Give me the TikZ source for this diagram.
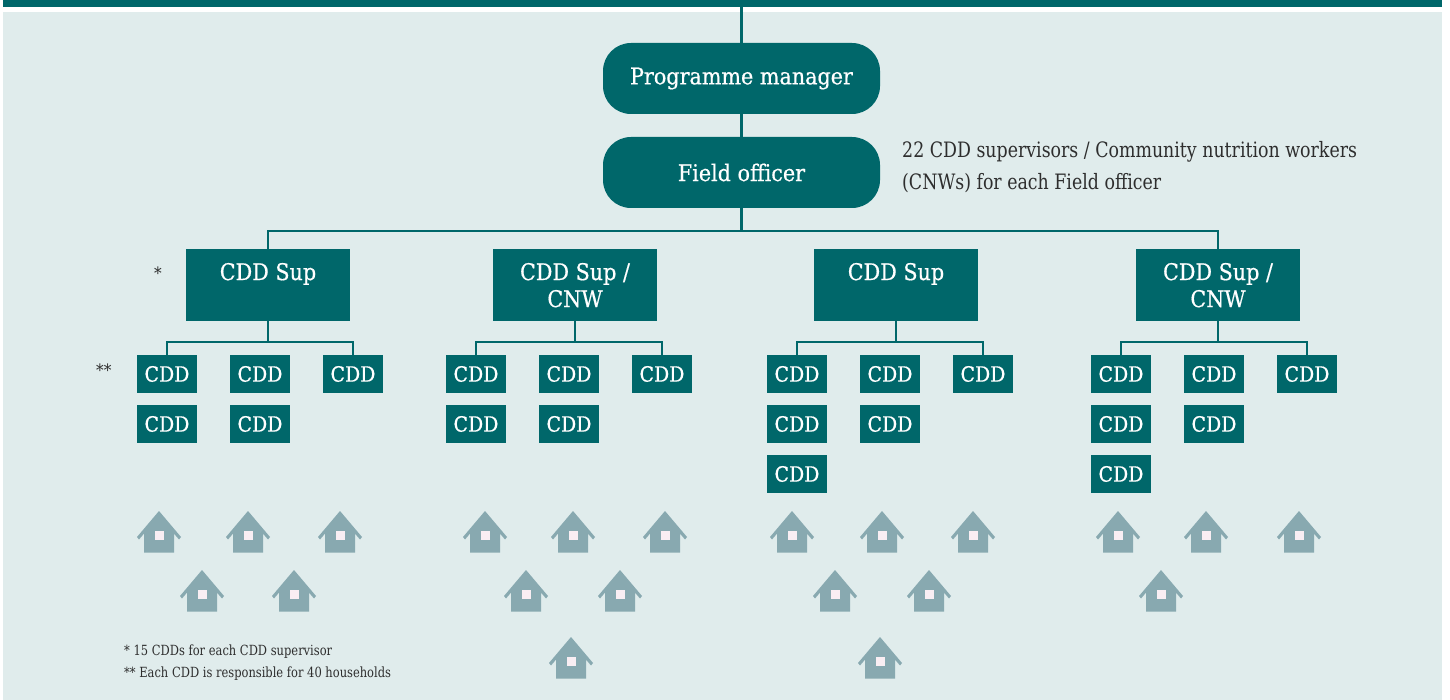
\documentclass[tikz,border=0pt]{standalone}
\usepackage{fontspec}
\usetikzlibrary{calc}
\setmainfont{DejaVu Serif}[FakeStretch=0.9]
\newfontfamily\boxfont{DejaVu Serif}[FakeStretch=0.9, FakeBold=0.6]
\newfontfamily\parafont{DejaVu Serif}[FakeStretch=0.82]
\definecolor{teal1}{HTML}{00676A}
\definecolor{bgc}{HTML}{E0ECEC}
\definecolor{housec}{HTML}{88A9B0}
\definecolor{winc}{HTML}{F9EEF3}
\definecolor{txt}{HTML}{2E2E2E}
\tikzset{
  conn/.style={draw=teal1, line width=2.2pt},
  roundbox/.style={fill=teal1, text=white, rounded corners=28pt, minimum width=277pt, minimum height=71pt, inner sep=0pt, font=\boxfont\fontsize{23}{27}\selectfont},
  supbox/.style={fill=teal1, text=white, minimum width=164pt, minimum height=72pt, inner sep=0pt, font=\boxfont\fontsize{23}{27}\selectfont},
  cddbox/.style={fill=teal1, text=white, minimum width=60pt, minimum height=38pt, inner sep=0pt, font=\boxfont\fontsize{21}{24}\selectfont},
  note/.style={text=txt, inner sep=0pt, anchor=west},
  hse/.pic={
    \fill[housec] (0,0) -- (-22,26) -- (-20,28.5) -- (-15,22.6) -- (-15,41.5) -- (15,41.5) -- (15,22.6) -- (20,28.5) -- (22,26) -- cycle;
    \fill[winc] (-4.5,20) rectangle (4.5,29);
  }
}
\newcommand{\suptext}[1]{\parbox[c][44pt][t]{160pt}{\centering #1}}
\begin{document}
\begin{tikzpicture}[x=1pt,y=-1pt]
\useasboundingbox (0,0) rectangle (1450,700);
\fill[white] (0,0) rectangle (1450,700);
\fill[bgc] (3,12) rectangle (1442,700);
\fill[teal1] (3,0) rectangle (1442,7);

% top hierarchy
\coordinate (top) at (741.5,7);
\node[roundbox] (pm) at (741.5,78.5) {Programme manager};
\node[roundbox] (fo) at (741.5,172.5) {Field officer};
\draw[conn] (top) -- (pm.north);
\draw[conn] (pm.south) -- (fo.north);

\node[note, anchor=north west, align=left, font=\parafont\fontsize{21.2}{32}\selectfont] (para) at (902,141)
  {22 CDD supervisors / Community nutrition workers\\(CNWs) for each Field officer};

% supervisors
\node[supbox] (s1) at (268,285) {\suptext{CDD Sup}};
\node[supbox] (s2) at (575,285) {\suptext{CDD Sup /\\CNW}};
\node[supbox] (s3) at (896,285) {\suptext{CDD Sup}};
\node[supbox] (s4) at (1218,285) {\suptext{CDD Sup /\\CNW}};

\coordinate (bar) at (741.5,231);
\draw[conn] (fo.south) -- (bar);
\draw[conn] (s1.north) |- (s4.north |- bar) -- (s4.north);

\node[note, font=\fontsize{17}{20}\selectfont] (star1) at (154,273) {*};
\node[note, font=\fontsize{17}{20}\selectfont] (star2) at (96,370) {**};

% CDD boxes
\foreach \g/\x/\a/\b in {1/137/2/2, 2/446/2/2, 3/767/3/2, 4/1091/3/2} {
  \foreach \r in {1,...,\a} \node[cddbox] (c\g-1-\r) at ({\x+30},{374+50*(\r-1)}) {CDD};
  \foreach \r in {1,...,\b} \node[cddbox] (c\g-2-\r) at ({\x+123},{374+50*(\r-1)}) {CDD};
  \node[cddbox] (c\g-3-1) at ({\x+216},374) {CDD};
  \coordinate (j\g) at ($(s\g.south)+(0,21)$);
  \draw[conn] (s\g.south) -- (j\g);
  \draw[conn] (c\g-1-1.north) |- (c\g-3-1.north |- j\g) -- (c\g-3-1.north);
}

% houses
\foreach \hx/\hy in {159/511, 248/511, 340/511, 202/570, 294/570,
  485/511, 573/511, 665/511, 526/570, 620/570, 571/637,
  792/511, 882/511, 973/511, 835/570, 929/570, 880/637,
  1118/511, 1206/511, 1299/511, 1161/570}
  \pic at (\hx,\hy) {hse};

% footnotes
\node[note, font=\parafont\fontsize{14}{16}\selectfont] (fn1) at (124,652) {* 15 CDDs for each CDD supervisor};
\node[note, font=\parafont\fontsize{14}{16}\selectfont] (fn2) at (124,674) {** Each CDD is responsible for 40 households};
\end{tikzpicture}
\end{document}
